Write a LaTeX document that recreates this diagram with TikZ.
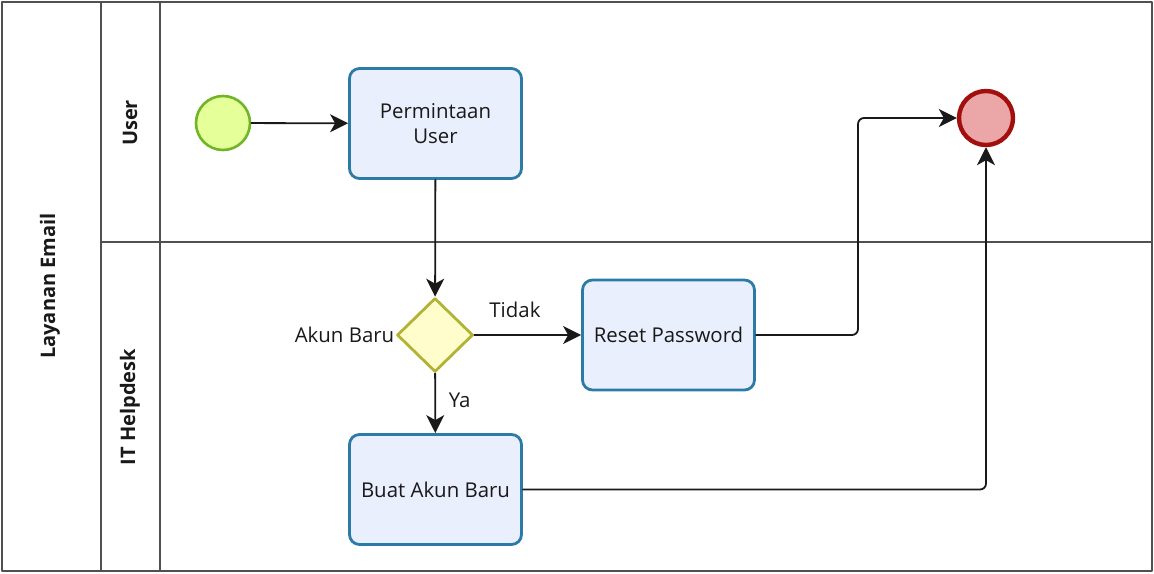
\documentclass[tikz,border=0pt]{standalone}
\usepackage{fontspec}
\setmainfont{Open Sans}
\usetikzlibrary{shapes.geometric,arrows.meta}
\definecolor{taskfill}{RGB}{234,239,253}
\definecolor{taskline}{RGB}{44,122,166}
\definecolor{gatefill}{RGB}{255,253,204}
\definecolor{gateline}{RGB}{178,178,52}
\definecolor{startfill}{RGB}{229,255,153}
\definecolor{startline}{RGB}{114,180,40}
\definecolor{endfill}{RGB}{235,167,168}
\definecolor{endline}{RGB}{163,14,14}
\definecolor{poolline}{RGB}{80,80,80}

\begin{document}
\begin{tikzpicture}[x=0.5pt, y=-0.5pt, line join=round, line cap=round,
    font=\fontsize{10.2}{12.5}\selectfont, text=black!90,
    task/.style={draw=taskline, fill=taskfill, line width=1.4pt, rounded corners=5pt,
      minimum width=86pt, minimum height=55pt, align=center, inner sep=2pt},
    gateway/.style={diamond, draw=gateline, fill=gatefill, line width=1.4pt,
      minimum width=38pt, minimum height=37pt, inner sep=0pt},
    startev/.style={circle, draw=startline, fill=startfill, line width=1.3pt,
      minimum size=27pt, inner sep=0pt},
    endev/.style={circle, draw=endline, fill=endfill, line width=2.2pt,
      minimum size=27pt, inner sep=0pt},
    flow/.style={draw=black!90, line width=0.9pt, rounded corners=3pt,
      -{Stealth[length=9pt, width=9pt, inset=2.5pt]}},
    pool/.style={draw=poolline, line width=0.9pt},
    lanetext/.style={rotate=90, font=\fontsize{10}{12}\selectfont\bfseries}]

    \useasboundingbox (0,0) rectangle (1154,573);

    % Pool and lanes
    \draw[pool] (2,2) rectangle (1152,571);
    \draw[pool] (101,2) -- (101,571);
    \draw[pool] (160,2) -- (160,571);
    \draw[pool] (101,242) -- (1152,242);

    \node[lanetext] (poolname) at (50,286) {Layanan Email};
    \node[lanetext] (laneuser) at (130,123) {User};
    \node[lanetext] (lanehelp) at (130,407) {IT Helpdesk};

    % Events
    \node[startev] (start) at (223,123) {};
    \node[endev]   (end)   at (986,118) {};

    % Tasks
    \node[task] (req)    at (435.5,123.5) {Permintaan\\User};
    \node[task] (reset)  at (668.5,335)   {Reset Password};
    \node[task] (create) at (435.5,489.5) {Buat Akun Baru};

    % Gateway
    \node[gateway] (gate) at (435,335) {};
    \node[anchor=east, inner sep=0.5pt] (gatelbl) at (gate.west) {Akun Baru};

    % Bend point above the reset task
    \coordinate (bend) at (858,118);

    % Sequence flows
    \draw[flow] (start) -- (req);
    \draw[flow] (req) -- (gate);
    \draw[flow] (gate) -- node[pos=0.38, above=5pt] {Tidak} (reset);
    \draw[flow] (gate) -- node[pos=0.45, right=3pt] {Ya} (create);
    \draw[flow] (reset.east) -| (bend) -- (end.west);
    \draw[flow] (create.east) -| (end.south);

\end{tikzpicture}
\end{document}
